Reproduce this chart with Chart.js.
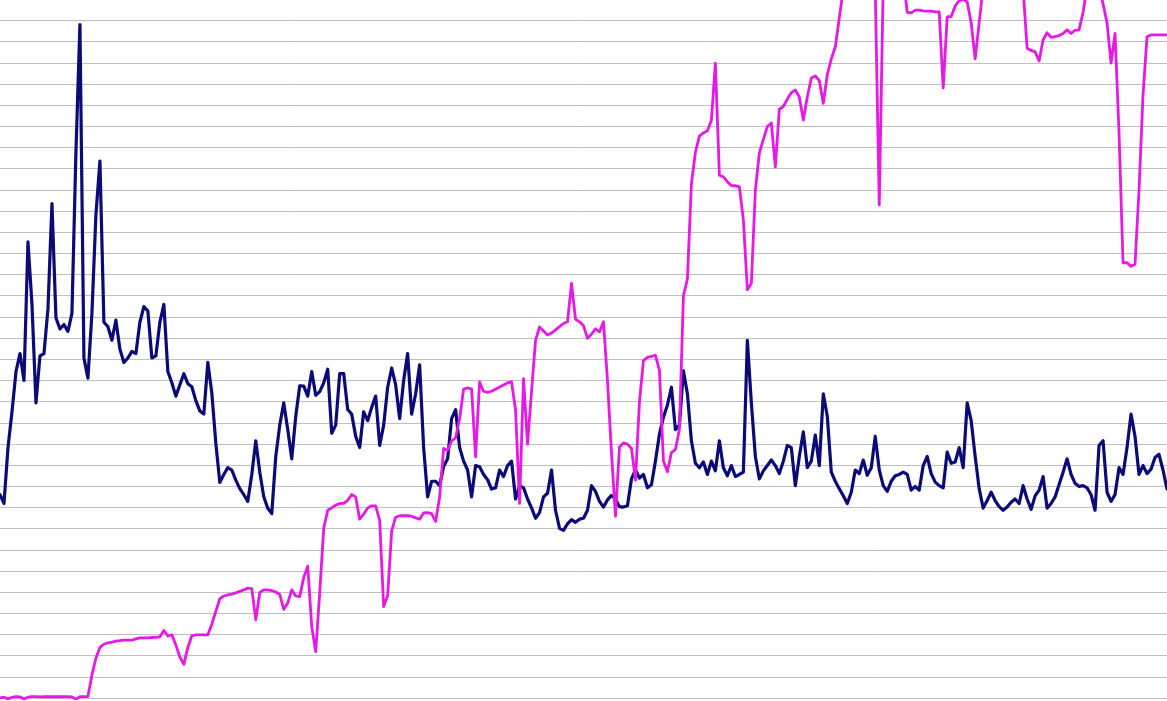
<!DOCTYPE html>
<html>
<head>
<meta charset="utf-8">
<title>Two series</title>
<script src="https://cdn.jsdelivr.net/npm/chart.js@4/dist/chart.umd.min.js"></script>
<style>
  html, body { margin: 0; padding: 0; background: #ffffff; overflow: hidden; }
  canvas { display: block; }
</style>
</head>
<body>
<canvas id="trend-chart" width="1167" height="701"></canvas>
<script>
// values are in grid steps (one horizontal grid line per unit)
const navySeries = [
    9.62, 9.2, 11.84, 13.53, 15.43, 16.28, 15.01, 21.56, 18.6, 13.95,
    16.17, 16.28, 18.39, 23.36, 17.97, 17.44, 17.65, 17.33, 18.18, 25.79,
    31.82, 16.07, 15.12, 18.18, 22.83, 25.37, 17.76, 17.55, 16.91, 17.86,
    16.49, 15.86, 16.07, 16.38, 16.28, 17.76, 18.5, 18.29, 16.07, 16.17,
    17.76, 18.6, 15.43, 14.9, 14.27, 14.8, 15.33, 14.86, 14.71, 14.06,
    13.57, 13.42, 15.86, 14.42, 12.05, 10.19, 10.57, 10.89, 10.78, 10.3,
    9.9, 9.62, 9.3, 10.57, 12.16, 10.68, 9.52, 8.97, 8.72, 11.42,
    12.9, 13.95, 12.69, 11.31, 13.32, 14.76, 14.74, 14.27, 15.43, 14.31,
    14.48, 14.9, 15.54, 12.52, 12.9, 15.33, 15.33, 13.64, 13.42, 12.37,
    11.84, 13.53, 13.11, 13.74, 14.27, 11.94, 12.9, 14.69, 15.6, 14.8,
    13.21, 15.01, 16.28, 13.42, 14.38, 15.75, 11.84, 9.51, 10.25, 10.25,
    10.04, 10.95, 11.31, 13.21, 13.63, 11.84, 11.2, 10.78, 9.51, 10.99,
    10.93, 10.57, 10.32, 9.88, 9.94, 10.78, 10.47, 10.99, 11.2, 9.41,
    10.04, 9.94, 9.41, 8.99, 8.5, 8.77, 9.51, 9.68, 10.78, 8.88,
    8.03, 7.93, 8.24, 8.44, 8.31, 8.46, 8.5, 8.88, 10.04, 9.77,
    9.3, 9.03, 9.37, 9.58, 9.41, 9.05, 9.03, 9.09, 10.36, 10.78,
    10.4, 10.57, 9.94, 10.08, 11.2, 12.47, 13.27, 13.85, 14.69, 12.69,
    12.9, 15.47, 14.38, 12.16, 11.1, 10.89, 11.16, 10.57, 11.2, 10.74,
    12.16, 10.89, 10.51, 10.99, 10.47, 10.57, 10.68, 16.91, 13.95, 11.42,
    10.36, 10.74, 10.99, 11.25, 10.99, 10.61, 11.2, 11.94, 11.84, 10.04,
    11.42, 12.58, 10.89, 11.2, 12.43, 10.99, 14.38, 13.32, 10.68, 10.25,
    9.9, 9.56, 9.2, 9.73, 10.78, 10.61, 11.25, 10.53, 10.89, 12.37,
    10.78, 10.04, 9.77, 10.25, 10.51, 10.57, 10.68, 10.57, 9.83, 10.0,
    9.83, 10.99, 11.42, 10.61, 10.21, 10.04, 9.94, 11.63, 11.1, 11.16,
    11.84, 10.89, 13.95, 13.11, 11.42, 9.9, 8.98, 9.34, 9.73, 9.34,
    9.05, 8.88, 9.03, 9.26, 9.41, 9.2, 10.04, 9.41, 8.92, 9.56,
    9.83, 10.47, 8.98, 9.2, 9.51, 10.1, 10.68, 11.31, 10.57, 10.15,
    10.0, 10.04, 9.94, 9.62, 8.88, 11.94, 12.16, 9.73, 9.3, 9.62,
    10.89, 10.57, 11.84, 13.42, 12.37, 10.57, 10.99, 10.61, 10.82, 11.37,
    11.52, 10.78, 9.89
];

const magentaSeries = [
    0.02, 0.05, -0.03, 0.04, 0.08, 0.06, -0.03, 0.05, 0.08, 0.08,
    0.06, 0.08, 0.07, 0.07, 0.07, 0.07, 0.07, 0.07, 0.06, -0.04,
    0.07, 0.08, 0.08, 1.1, 1.9, 2.4, 2.55, 2.62, 2.65, 2.7,
    2.72, 2.75, 2.75, 2.75, 2.8, 2.85, 2.85, 2.85, 2.87, 2.88,
    2.9, 3.2, 2.94, 3.0, 2.52, 1.95, 1.6, 2.4, 2.95, 2.99,
    2.99, 2.99, 3.0, 3.5, 4.1, 4.7, 4.83, 4.88, 4.92, 4.98,
    5.05, 5.12, 5.2, 5.18, 3.7, 5.0, 5.12, 5.12, 5.08, 5.02,
    4.9, 4.2, 4.5, 5.12, 4.83, 4.8, 5.71, 6.24, 3.38, 2.2,
    5.0, 8.03, 8.88, 8.99, 9.12, 9.2, 9.2, 9.35, 9.62, 9.51,
    8.46, 8.7, 8.99, 9.09, 9.09, 8.4, 4.33, 4.86, 7.9, 8.55,
    8.62, 8.62, 8.62, 8.6, 8.52, 8.46, 8.75, 8.77, 8.72, 8.35,
    9.5, 11.8, 11.7, 12.15, 12.3, 13.2, 14.6, 14.66, 14.6, 11.4,
    14.94, 14.5, 14.45, 14.5, 14.6, 14.7, 14.8, 14.9, 14.94, 13.62,
    9.2, 15.1, 12.0, 14.5, 16.9, 17.54, 17.35, 17.16, 17.25, 17.4,
    17.55, 17.7, 17.78, 19.6, 17.9, 17.78, 17.6, 17.0, 17.2, 17.45,
    17.3, 17.78, 15.0, 11.6, 8.6, 11.87, 12.06, 12.0, 11.8, 10.3,
    14.0, 15.95, 16.1, 16.15, 16.2, 15.5, 11.2, 10.7, 11.6, 11.75,
    12.7, 19.0, 19.8, 24.3, 25.79, 26.55, 26.7, 26.8, 27.3, 30.0,
    24.7, 24.63, 24.4, 24.21, 24.21, 24.15, 22.6, 19.3, 19.6, 24.0,
    25.75, 26.4, 27.0, 27.17, 25.1, 27.82, 27.95, 28.3, 28.6, 28.73,
    28.4, 27.31, 28.4, 29.3, 29.39, 29.17, 28.1, 29.45, 30.2, 30.76,
    32.13, 33.5, 34.5, 35.0, 35.2, 35.0, 34.8, 34.6, 34.2, 33.5,
    23.3, 33.8, 34.5, 35.0, 35.0, 34.6, 34.0, 32.4, 32.37, 32.5,
    32.5, 32.47, 32.45, 32.45, 32.42, 32.42, 28.83, 32.18, 32.2, 32.7,
    32.95, 33.0, 32.9, 31.9, 30.2, 31.9, 33.6, 34.2, 34.8, 35.2,
    35.5, 35.5, 35.2, 34.8, 34.4, 34.0, 33.5, 30.7, 30.6, 30.53,
    30.1, 31.1, 31.43, 31.22, 31.25, 31.3, 31.4, 31.57, 31.4, 31.55,
    31.57, 32.4, 33.6, 34.0, 34.0, 33.6, 32.8, 31.9, 30.0, 31.4,
    26.7, 20.57, 20.57, 20.4, 20.5, 24.0, 28.5, 31.24, 31.33, 31.33,
    31.33, 31.33, 31.33
];

// one category per sample
const periods = navySeries.map((_, i) => i + 1);

// horizontal grid levels
const gridLevels = [0, 1, 2, 3, 4, 5, 6, 7, 8, 9, 10, 11, 12, 13, 14, 15, 16,
    17, 18, 19, 20, 21, 22, 23, 24, 25, 26, 27, 28, 29, 30, 31, 32];

const ctx = document.getElementById('trend-chart').getContext('2d');

new Chart(ctx, {
    type: 'line',
    data: {
        labels: periods,
        datasets: [{
            label: 'Series A',
            data: navySeries,
            borderColor: '#0a0a78',
            borderWidth: 3.2,
            order: 1
        }, {
            label: 'Series B',
            data: magentaSeries,
            borderColor: '#e619e6',
            borderWidth: 2.8,
            order: 0
        }]
    },
    options: {
        responsive: false,
        animation: false,
        layout: { padding: 0 },
        elements: {
            point: { radius: 0, hoverRadius: 0 },
            line: { tension: 0, fill: false, borderJoinStyle: 'round', borderCapStyle: 'round' }
        },
        plugins: {
            legend: { display: false },
            tooltip: { enabled: false }
        },
        scales: {
            x: {
                display: false,
                offset: false
            },
            y: {
                min: -0.13,
                max: 32.98,
                afterBuildTicks: function (scale) {
                    scale.ticks = gridLevels.map(v => ({ value: v }));
                },
                ticks: { display: false },
                border: { display: false },
                grid: {
                    color: '#c0c0c0',
                    lineWidth: 1,
                    drawTicks: false
                }
            }
        }
    }
});
</script>
</body>
</html>
